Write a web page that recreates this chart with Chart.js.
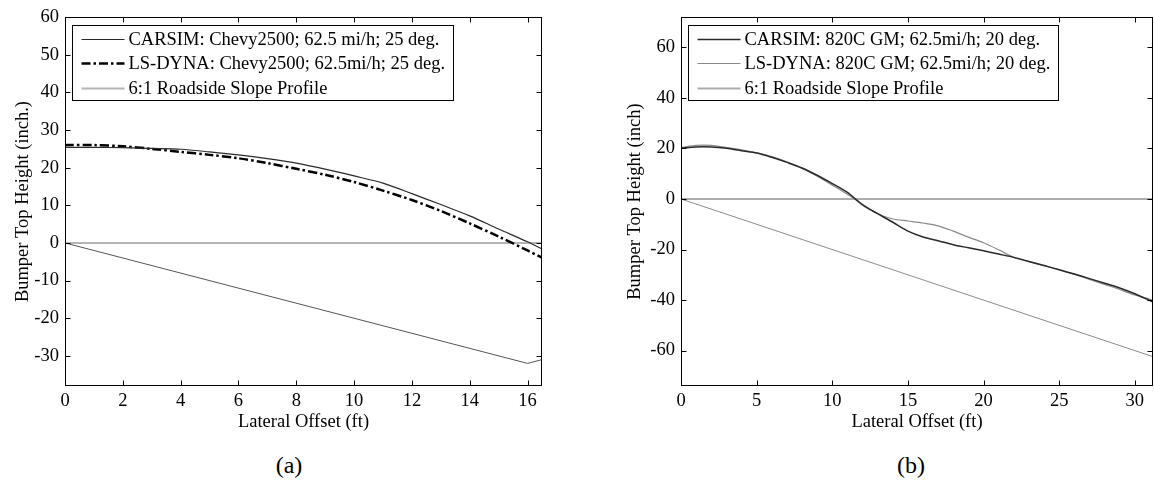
<!DOCTYPE html>
<html>
<head>
<meta charset="utf-8">
<script src="https://cdn.jsdelivr.net/npm/chart.js@4/dist/chart.umd.min.js"></script>
<style>
    html, body { margin: 0; padding: 0; background: #fff; }
    #wrap { position: relative; width: 1154px; height: 482px; overflow: hidden; }
    .box { position: absolute; top: 0; height: 440px; }
    #boxA { left: 0; width: 577px; }
    #boxB { left: 577px; width: 577px; }
    .cap {
        position: absolute; top: 451px; line-height: 28px;
        font-family: "Liberation Serif", "Times New Roman", serif; font-size: 24px;
        transform: translateX(-50%);
    }
</style>
</head>
<body>
<div id="wrap">
    <div class="box" id="boxA"><canvas id="chartA"></canvas></div>
    <div class="box" id="boxB"><canvas id="chartB"></canvas></div>
    <div class="cap" style="left:289px">(a)</div>
    <div class="cap" style="left:911px">(b)</div>
</div>
<script>
// (a) Chevy2500, 62.5 mi/h, 25 deg
var offsetA = [0, 1, 2, 3, 4, 5, 6, 7, 8, 9, 10, 11, 12, 13, 14, 15, 16, 16.5];
var carsimA = [25.4, 25.4, 25.3, 25.1, 24.9, 24.2, 23.4, 22.4, 21.2, 19.6, 17.8, 15.9, 13.1, 10.2, 7.2, 3.7, 0.3, -1.6];
var lsdynaA = [26.0, 26.0, 25.7, 25.0, 24.2, 23.4, 22.5, 21.2, 19.7, 18.1, 16.2, 13.9, 11.4, 8.5, 5.2, 1.7, -2.0, -3.9];
var slopeXA = [0, 16, 16.5];
var slopeYA = [0, -32, -31];
var groundXA = [0, 16.5];
var groundYA = [0, 0];

// (b) 820C GM, 62.5 mi/h, 20 deg
var offsetB = [0, 1, 2, 3, 4, 5, 6, 7, 8, 9, 10, 11, 12, 13, 14, 15, 16, 17, 18, 19, 20, 21, 22, 23, 24, 25, 26, 27, 28, 29, 30, 31, 31.2];
var carsimB = [20.1, 20.6, 20.6, 20.1, 19.1, 18.2, 16.5, 14.5, 12.3, 9.4, 6.1, 2.6, -2.3, -5.8, -9.2, -12.7, -15.0, -16.5, -18.1, -19.3, -20.5, -21.8, -23.1, -24.7, -26.3, -28.0, -29.7, -31.5, -33.3, -35.2, -37.5, -40.2, -40.8];
var lsdynaB = [20.4, 21.2, 21.2, 20.4, 19.5, 18.3, 16.8, 14.7, 12.1, 9.0, 5.5, 1.9, -2.1, -5.8, -7.9, -8.7, -9.5, -10.6, -12.7, -15.1, -17.3, -20.1, -23.1, -24.8, -26.4, -28.0, -29.8, -31.8, -33.8, -35.8, -38.0, -39.7, -40.2];
var slopeXB = [0, 31.2];
var slopeYB = [0, -62.4];
var groundXB = [0, 31.2];
var groundYB = [0, 0];

var FONT = '"Liberation Serif", "Times New Roman", serif';
var FSIZE = 18.5;

Chart.defaults.font.family = FONT;
Chart.defaults.font.size = FSIZE;
Chart.defaults.color = '#000';

function pts(xs, ys) {
    return xs.map(function (x, i) { return { x: x, y: ys[i] }; });
}

// MATLAB-like box, inward ticks on all four sides, and legend inside the axes
var matlabFrame = {
    id: 'matlabFrame',
    afterDatasetsDraw: function (chart) {
        var ctx = chart.ctx, a = chart.chartArea;
        var sx = chart.scales.x, sy = chart.scales.y;
        var L = Math.round(a.left) + 0.5, R = Math.round(a.right) - 0.5;
        var T = Math.round(a.top) + 0.5, B = Math.round(a.bottom) - 0.5;
        ctx.save();
        ctx.strokeStyle = '#000';
        ctx.lineWidth = 1;
        ctx.setLineDash([]);
        ctx.beginPath();
        sx.ticks.forEach(function (t) {
            var px = Math.round(sx.getPixelForValue(t.value)) + 0.5;
            ctx.moveTo(px, B); ctx.lineTo(px, B - 5);
            ctx.moveTo(px, T); ctx.lineTo(px, T + 5);
        });
        sy.ticks.forEach(function (t) {
            var py = Math.round(sy.getPixelForValue(t.value)) + 0.5;
            ctx.moveTo(L, py); ctx.lineTo(L + 5, py);
            ctx.moveTo(R, py); ctx.lineTo(R - 5, py);
        });
        ctx.stroke();
        ctx.strokeRect(L, T, R - L, B - T);

        // legend
        var items = chart.data.datasets.filter(function (ds) { return !ds.hideInLegend; });
        ctx.font = FSIZE + 'px ' + FONT;
        var tw = 0;
        items.forEach(function (ds) { tw = Math.max(tw, ctx.measureText(ds.label).width); });
        var bx = Math.round(a.left + 7) + 0.5, by = Math.round(a.top + 8) + 0.5;
        var bw = Math.round(56 + tw + 8), bh = 75;
        ctx.fillStyle = '#fff';
        ctx.fillRect(bx, by, bw, bh);
        ctx.strokeStyle = '#000';
        ctx.lineWidth = 1;
        ctx.strokeRect(bx, by, bw, bh);
        ctx.textBaseline = 'middle';
        ctx.textAlign = 'left';
        items.forEach(function (ds, i) {
            var cy = Math.round(by + 13 + i * 24.5) + 0.5;
            ctx.save();
            ctx.strokeStyle = ds.borderColor;
            ctx.lineWidth = ds.borderWidth;
            ctx.setLineDash(ds.borderDash || []);
            ctx.beginPath();
            ctx.moveTo(bx + 9, cy);
            ctx.lineTo(bx + 52, cy);
            ctx.stroke();
            ctx.restore();
            ctx.fillStyle = '#000';
            ctx.fillText(ds.label, bx + 56, cy + 1);
        });
        ctx.restore();
    }
};

function axisFont() {
    return { family: FONT, size: FSIZE };
}

function makeChart(id, datasets, xr, yr, pad, yTitle, yTitlePad) {
    return new Chart(document.getElementById(id), {
        type: 'line',
        data: { datasets: datasets },
        options: {
            responsive: true,
            maintainAspectRatio: false,
            animation: false,
            layout: { padding: pad },
            plugins: { legend: { display: false }, tooltip: { enabled: false } },
            elements: { point: { radius: 0 }, line: { tension: 0.3, borderCapStyle: 'butt' } },
            scales: {
                x: {
                    type: 'linear', min: xr[0], max: xr[1],
                    ticks: { stepSize: xr[2], includeBounds: false, autoSkip: false, maxRotation: 0, padding: 4, color: '#000', font: axisFont() },
                    grid: { display: false, drawTicks: false },
                    border: { display: false },
                    title: { display: true, text: 'Lateral Offset (ft)', color: '#000', font: axisFont(), padding: { top: 0, bottom: 7 } },
                    afterFit: function (s) { s.height = 54; }
                },
                y: {
                    type: 'linear', min: yr[0], max: yr[1],
                    ticks: { stepSize: yr[2], includeBounds: false, autoSkip: false, padding: 6, color: '#000', font: axisFont() },
                    grid: { display: false, drawTicks: false },
                    border: { display: false },
                    title: { display: true, text: yTitle, color: '#000', font: axisFont(), padding: { top: yTitlePad, bottom: 0 } },
                    afterFit: function (s) { s.width = 65; }
                }
            }
        },
        plugins: [matlabFrame]
    });
}

makeChart('chartA', [
    { label: 'CARSIM: Chevy2500; 62.5 mi/h; 25 deg.', data: pts(offsetA, carsimA), borderColor: '#2a2a2a', borderWidth: 1.2 },
    { label: 'LS-DYNA: Chevy2500; 62.5mi/h; 25 deg.', data: pts(offsetA, lsdynaA), borderColor: '#000', borderWidth: 2.5, borderDash: [9, 3, 2.5, 3] },
    { label: '6:1 Roadside Slope Profile', data: pts(groundXA, groundYA), borderColor: '#b4b4b4', borderWidth: 2, tension: 0 },
    { label: 'slope', hideInLegend: true, data: pts(slopeXA, slopeYA), borderColor: '#555', borderWidth: 1, tension: 0 }
], [0, 16.5, 2], [-38, 60, 10], { left: 0, right: 35, top: 12, bottom: 0 }, 'Bumper Top Height (inch.)', 12);

makeChart('chartB', [
    { label: 'CARSIM: 820C GM; 62.5mi/h; 20 deg.', data: pts(offsetB, carsimB), borderColor: '#2a2a2a', borderWidth: 1.5 },
    { label: 'LS-DYNA: 820C GM; 62.5mi/h; 20 deg.', data: pts(offsetB, lsdynaB), borderColor: '#8a8a8a', borderWidth: 1.2 },
    { label: '6:1 Roadside Slope Profile', data: pts(groundXB, groundYB), borderColor: '#adadad', borderWidth: 2, tension: 0 },
    { label: 'slope', hideInLegend: true, data: pts(slopeXB, slopeYB), borderColor: '#8c8c8c', borderWidth: 1, tension: 0 }
], [0, 31.2, 5], [-74, 72, 20], { left: 39, right: 1, top: 12, bottom: 0 }, 'Bumper Top Height (inch)', 8);
</script>
</body>
</html>
